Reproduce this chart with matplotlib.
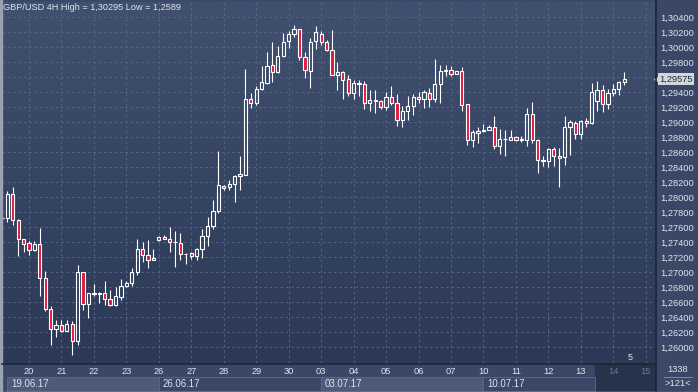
import numpy as np
import matplotlib.pyplot as plt
from matplotlib.patches import Rectangle
from matplotlib.lines import Line2D
from matplotlib.colors import LinearSegmentedColormap
from matplotlib.transforms import blended_transform_factory

plt.rcParams['font.family'] = ['Liberation Sans', 'DejaVu Sans']

# GBP/USD 4H candles (open, high, low, close)
opens = [1.27720, 1.27724, 1.28044, 1.27698, 1.27444, 1.27387, 1.27298, 1.27378, 1.26924, 1.26511,
         1.26244, 1.26302, 1.26222, 1.26311, 1.26084, 1.27009, 1.26578, 1.26724, 1.26711, 1.26724,
         1.26636, 1.26564, 1.26667, 1.26813, 1.26858, 1.27009, 1.27311, 1.27231, 1.27164, 1.27427,
         1.27471, 1.27444, 1.27400, 1.27391, 1.27244, 1.27258, 1.27213, 1.27311, 1.27480, 1.27613,
         1.27813, 1.28147, 1.28138, 1.28182, 1.28284, 1.28302, 1.29311, 1.29258, 1.29449, 1.29524,
         1.29760, 1.29671, 1.29889, 1.30080, 1.30170, 1.30244, 1.29871, 1.29680, 1.30080, 1.30182,
         1.30071, 1.29969, 1.29627, 1.29667, 1.29578, 1.29391, 1.29524, 1.29511, 1.29258, 1.29302,
         1.29280, 1.29204, 1.29338, 1.29258, 1.29036, 1.29156, 1.29222, 1.29338, 1.29311, 1.29391,
         1.29311, 1.29511, 1.29684, 1.29702, 1.29644, 1.29680, 1.29244, 1.28760, 1.28858, 1.28889,
         1.28902, 1.28938, 1.28680, 1.28782, 1.28769, 1.28804, 1.28769, 1.28769, 1.29116, 1.28769,
         1.28502, 1.28480, 1.28644, 1.28547, 1.28538, 1.28933, 1.28991, 1.28844, 1.29013, 1.28991,
         1.29289, 1.29427, 1.29249, 1.29391, 1.29444, 1.29538]
highs = [1.27730, 1.28089, 1.28142, 1.27710, 1.27444, 1.27410, 1.27422, 1.27591, 1.27022, 1.26547,
         1.26364, 1.26356, 1.26356, 1.26347, 1.27102, 1.27009, 1.26724, 1.26844, 1.26738, 1.26876,
         1.26756, 1.26800, 1.26911, 1.26889, 1.27053, 1.27444, 1.27409, 1.27431, 1.27311, 1.27489,
         1.27502, 1.27604, 1.27547, 1.27524, 1.27258, 1.27267, 1.27329, 1.27582, 1.27738, 1.27969,
         1.28622, 1.28169, 1.28236, 1.28302, 1.28556, 1.29716, 1.29391, 1.29480, 1.29747, 1.29938,
         1.30071, 1.30013, 1.30191, 1.30213, 1.30295, 1.30244, 1.29938, 1.30124, 1.30289, 1.30213,
         1.30102, 1.30236, 1.29800, 1.29680, 1.29636, 1.29569, 1.29569, 1.29547, 1.29436, 1.29436,
         1.29302, 1.29400, 1.29480, 1.29382, 1.29222, 1.29356, 1.29382, 1.29400, 1.29436, 1.29458,
         1.29844, 1.29769, 1.29769, 1.29747, 1.29689, 1.29738, 1.29244, 1.28902, 1.28938, 1.28982,
         1.28969, 1.29089, 1.28911, 1.28902, 1.28902, 1.28822, 1.28822, 1.29191, 1.29271, 1.28778,
         1.28547, 1.28658, 1.28671, 1.28658, 1.29089, 1.29036, 1.29013, 1.29036, 1.29058, 1.29524,
         1.29556, 1.29493, 1.29449, 1.29516, 1.29547, 1.29671]
lows = [1.27715, 1.27667, 1.27631, 1.27222, 1.27267, 1.27231, 1.27280, 1.26680, 1.26489, 1.26031,
        1.26133, 1.26200, 1.26213, 1.25895, 1.26031, 1.26498, 1.26391, 1.26689, 1.26587, 1.26556,
        1.26547, 1.26547, 1.26631, 1.26800, 1.26822, 1.26956, 1.27133, 1.27058, 1.27156, 1.27418,
        1.27436, 1.27267, 1.27071, 1.27160, 1.27111, 1.27178, 1.27160, 1.27191, 1.27347, 1.27582,
        1.27791, 1.28093, 1.28093, 1.27933, 1.28102, 1.28293, 1.29191, 1.29227, 1.29436, 1.29511,
        1.29533, 1.29658, 1.29867, 1.29991, 1.30138, 1.29827, 1.29591, 1.29458, 1.29978, 1.30036,
        1.29947, 1.29627, 1.29436, 1.29316, 1.29347, 1.29316, 1.29347, 1.29178, 1.29147, 1.29124,
        1.29178, 1.29160, 1.29236, 1.28947, 1.28938, 1.29036, 1.29102, 1.29258, 1.29191, 1.29204,
        1.29267, 1.29250, 1.29613, 1.29620, 1.29644, 1.29147, 1.28702, 1.28671, 1.28724, 1.28867,
        1.28893, 1.28644, 1.28582, 1.28547, 1.28760, 1.28747, 1.28733, 1.28689, 1.28724, 1.28324,
        1.28422, 1.28404, 1.28422, 1.28138, 1.28431, 1.28560, 1.28778, 1.28778, 1.28933, 1.28982,
        1.29147, 1.29133, 1.29178, 1.29356, 1.29360, 1.29493]
closes = [1.27725, 1.28044, 1.27698, 1.27444, 1.27378, 1.27298, 1.27378, 1.26924, 1.26511, 1.26244,
          1.26302, 1.26222, 1.26311, 1.26084, 1.27009, 1.26578, 1.26724, 1.26711, 1.26724, 1.26636,
          1.26569, 1.26676, 1.26818, 1.26858, 1.27009, 1.27311, 1.27231, 1.27164, 1.27191, 1.27471,
          1.27444, 1.27400, 1.27396, 1.27244, 1.27240, 1.27213, 1.27311, 1.27489, 1.27613, 1.27818,
          1.28156, 1.28124, 1.28182, 1.28289, 1.28316, 1.29311, 1.29258, 1.29449, 1.29542, 1.29747,
          1.29671, 1.29889, 1.30071, 1.30178, 1.30244, 1.29871, 1.29693, 1.30071, 1.30200, 1.30071,
          1.29960, 1.29627, 1.29671, 1.29560, 1.29391, 1.29524, 1.29516, 1.29258, 1.29302, 1.29280,
          1.29204, 1.29338, 1.29258, 1.29036, 1.29156, 1.29222, 1.29338, 1.29311, 1.29400, 1.29311,
          1.29511, 1.29689, 1.29693, 1.29644, 1.29680, 1.29227, 1.28760, 1.28867, 1.28880, 1.28893,
          1.28938, 1.28680, 1.28782, 1.28778, 1.28804, 1.28769, 1.28778, 1.29116, 1.28760, 1.28502,
          1.28480, 1.28644, 1.28547, 1.28524, 1.28933, 1.29000, 1.28844, 1.29022, 1.28991, 1.29404,
          1.29436, 1.29249, 1.29391, 1.29444, 1.29538, 1.29578]

day_labels = ['20', '21', '22', '23', '26', '27', '28', '29', '30', '03',
              '04', '05', '06', '07', '10', '11', '12', '13', '14', '15']
day_start = [5 + 6 * i for i in range(len(day_labels))]
week_labels = ['19.06.17', '26.06.17', '03.07.17', '10.07.17']
week_start = [1, 29, 59, 89]
week_end = [29, 59, 89, 109.6]
last_price = 1.29575

W, H = 698, 392
fx = lambda x: x / W
fy = lambda y: 1 - y / H

bg_fig = '#3a4766'
txt = '#dfe4ee'
red = '#e3163d'

fig = plt.figure(figsize=(W / 100, H / 100), dpi=100, facecolor=bg_fig)
ax = fig.add_axes([fx(2), fy(363), fx(653), (363 - 2) / H])

xlim = (0.02, 120.7)
ylim = (1.25789, 1.30603)

# background gradient of the plot area
cmap = LinearSegmentedColormap.from_list('bg', ['#2b3956', '#40506f'])
ax.imshow(np.linspace(0, 1, 256).reshape(-1, 1), extent=[*xlim, *ylim], origin='lower',
          aspect='auto', cmap=cmap, zorder=-2)

o = np.array(opens)
c = np.array(closes)
hi = np.array(highs)
lo = np.array(lows)
idx = np.arange(len(o))
up = c >= o
b_lo = np.minimum(o, c)
b_hi = np.maximum(o, c)
b_h = np.maximum(b_hi - b_lo, 0.00002)

ax.vlines(idx, b_hi, hi, color='white', lw=0.8, zorder=2)
ax.vlines(idx, lo, b_lo, color='white', lw=0.8, zorder=2)
ax.bar(idx, b_h, bottom=b_lo, width=0.6, color=[('none' if u else red) for u in up],
       edgecolor='white', lw=0.8, zorder=3)

ax.set_xlim(*xlim)
ax.set_ylim(*ylim)

yt = np.round(np.arange(1.260, 1.3041, 0.002), 3)
ax.set_yticks(yt, ['' if abs(v - 1.296) < 1e-6 else ('%.5f' % v).replace('.', ',') for v in yt])
ax.set_xticks(day_start, day_labels)
ax.yaxis.tick_right()
ax.tick_params(length=0, labelsize=6.7, colors=txt)
ax.tick_params(axis='y', pad=4)
ax.tick_params(axis='x', pad=3)
for t in ax.get_xticklabels()[-2:]:
    t.set_color('#6b7794')
ax.grid(color='#566584', ls=(0, (2.5, 3)), lw=0.7)
ax.set_axisbelow(True)
for s in ax.spines.values():
    s.set_visible(False)

# frame lines and the darker "future" block under 14 / 15
fig.add_artist(Rectangle((fx(595), fy(390)), fx(60), (390 - 364) / H, color='#27324b', zorder=-1))
fig.add_artist(Line2D([fx(2), fx(655)], [fy(363.5), fy(363.5)], color='#1c2436', lw=1.2))
fig.add_artist(Line2D([fx(655.5), fx(655.5)], [fy(0), fy(392)], color='#1c2436', lw=1.2))
fig.add_artist(Rectangle((0, 0), fx(2), 1, color='#9aa2b2'))
fig.add_artist(Line2D([0, 1], [fy(391.5), fy(391.5)], color='#8a93a6', lw=1.0))

# week boxes in the date row
bt = blended_transform_factory(ax.transData, fig.transFigure)
for i, (lab, s0, s1) in enumerate(zip(week_labels, week_start, week_end)):
    fc = '#4d5b79' if i % 2 == 0 else bg_fig
    ax.add_patch(Rectangle((s0, fy(391)), s1 - s0, (391 - 377) / H, transform=bt,
                           facecolor=fc, edgecolor='#5d6b88', lw=0.6, clip_on=False))
    ax.text(s0 + 0.7, fy(384), lab, transform=bt, fontsize=6.9, color=txt, va='center')

fig.text(fx(3), fy(8), 'GBP/USD 4H High = 1,30295 Low = 1,2589', fontsize=6.6, color=txt, va='center')
fig.text(fx(630), fy(357), '5', fontsize=6.5, color=txt, va='center', ha='center')

# last price tag
pt = blended_transform_factory(fig.transFigure, ax.transData)
ax.text(fx(659), last_price, ('%.5f' % last_price).replace('.', ','), transform=pt, fontsize=6.7,
        color='#1e2a44', va='center', ha='left', clip_on=False,
        bbox=dict(boxstyle='square,pad=0.15', fc='#d4d6da', ec='none'))
ax.plot([fx(657)], [last_price], marker='<', ms=4, color='#d4d6da', transform=pt, clip_on=False)

fig.text(fx(678), fy(370), '1338', fontsize=6.7, color=txt, va='center', ha='center')
fig.text(fx(678), fy(384), '>121<', fontsize=6.7, color=txt, va='center', ha='center')
fig.add_artist(Line2D([fx(664), fx(692)], [fy(377), fy(377)], color='#8c96ab', lw=0.6))

fig.savefig('out.png', dpi=100, facecolor=bg_fig)
